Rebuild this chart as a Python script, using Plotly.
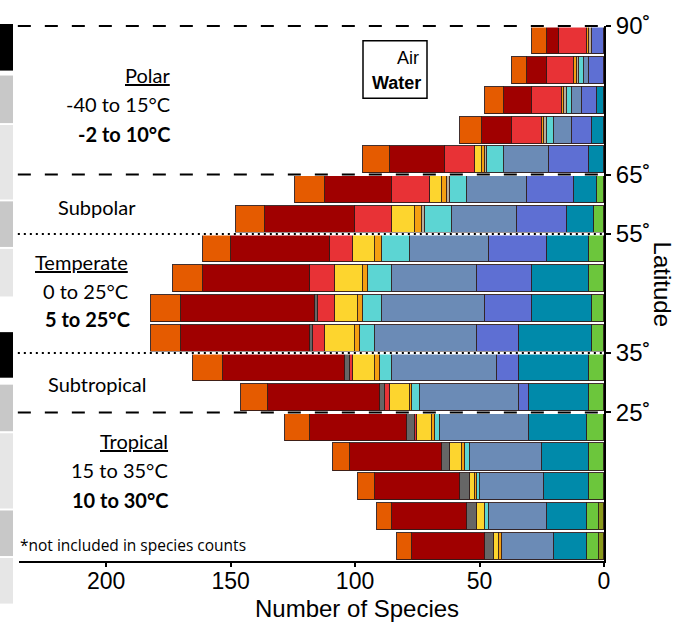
import plotly.graph_objects as go

# ---------------- data (rows listed top -> bottom, 5-degree latitude bins) ----------------
lat_mid = [87.5, 82.5, 77.5, 72.5, 67.5, 62.5, 57.5, 52.5, 47.5,
           42.5, 37.5, 32.5, 27.5, 22.5, 17.5, 12.5, 7.5, 2.5]

# series listed in stacking order from x=0 outwards
olive  = [0, 0, 0, 0, 0, 0, 0, 0, 0, 0, 0, 0, 0, 0, 0, 0, 2, 2]
green  = [0, 0, 0, 0, 0, 3, 4, 6, 6, 5, 5, 6, 6, 7, 6, 6, 5, 5]
teal   = [0, 0, 3, 5, 6, 9, 11, 17, 23, 24, 29, 28, 24, 23, 19, 18, 16, 13]
blue   = [5, 6, 6, 8, 16, 19, 20, 23, 22, 19, 17, 9, 4, 0, 0, 0, 0, 0]
steel  = [0, 2, 4, 7, 18, 24, 26, 32, 34, 41, 41, 42, 40, 36, 29, 26, 23, 21]
cyan   = [0, 2, 2, 3, 7, 7, 11, 11, 10, 8, 6, 5, 3, 2, 2, 1, 2, 0]
tan    = [1, 1, 1, 1, 1, 1, 1, 0, 0, 0, 0, 0, 0, 0, 0, 0, 0, 0]
amber  = [1, 1, 1, 1, 1, 2, 3, 3, 2, 2, 2, 2, 1, 1, 1, 1, 0, 1]
yellow = [0, 0, 0, 0, 3, 5, 9, 9, 11, 9, 12, 9, 8, 6, 5, 2, 3, 2]
red    = [11, 11, 12, 12, 12, 15, 15, 9, 10, 7, 5, 1, 2, 1, 0, 0, 0, 0]
gray   = [0, 0, 0, 0, 0, 0, 0, 0, 0, 1, 1, 2, 2, 3, 3, 4, 4, 4]
dkred  = [5, 8, 11, 12, 22, 27, 36, 40, 43, 54, 52, 49, 45, 39, 37, 34, 30, 29]
orange = [6, 6, 8, 9, 11, 12, 12, 11, 12, 12, 12, 12, 11, 10, 7, 7, 6, 6]

series = [
    ("olive", olive, "#8A9A1B"),
    ("green", green, "#6CC63C"),
    ("teal", teal, "#008AAA"),
    ("blue", blue, "#5E6FD3"),
    ("steel", steel, "#6B8BB6"),
    ("cyan", cyan, "#5CD5D3"),
    ("tan", tan, "#B9AE9A"),
    ("amber", amber, "#F4A012"),
    ("yellow", yellow, "#FDD52E"),
    ("red", red, "#E83236"),
    ("gray", gray, "#666666"),
    ("dark red", dkred, "#A00000"),
    ("orange", orange, "#E55B00"),
]

x_ticks = [0, 50, 100, 150, 200]
lat_ticks = [25, 35, 55, 65, 90]
lat_ticktext = ["25˚", "35˚", "55˚", "65˚", "90˚"]

# ---------------- figure ----------------
W, H = 679, 623
ML, MR, MT, MB = 19, 75, 21, 62
PW, PH = W - ML - MR, H - MT - MB


def px_x(px):
    return (px - ML) / PW


def px_y(py):
    return (MT + PH - py) / PH


fig = go.Figure()
for name, vals, col in series:
    fig.add_trace(go.Bar(
        y=lat_mid, x=[v if v else None for v in vals], name=name,
        orientation="h", width=4.55,
        marker=dict(color=col, line=dict(color="rgba(45,25,25,0.9)", width=1)),
        showlegend=False, hoverinfo="x+name",
    ))

shapes = []
# boundary lines
for lat, dash in [(90, "13px,14px"), (65, "13px,14px"), (25, "13px,14px"),
                  (55, "2px,4px"), (35, "2px,4px")]:
    yy = lat / 90
    shapes.append(dict(type="line", xref="paper", yref="paper", x0=-0.002, x1=1,
                       y0=yy, y1=yy, line=dict(color="white", width=3), layer="above"))
    shapes.append(dict(type="line", xref="paper", yref="paper", x0=-0.002, x1=1,
                       y0=yy, y1=yy, line=dict(color="black", width=2, dash=dash),
                       layer="above"))

# cropped legend blocks at the very left
blocks = [(19, 66, "#000000"), (71, 119, "#C8C8C8"), (121, 196, "#E6E6E6"),
          (198, 244, "#C8C8C8"), (246, 294, "#E6E6E6"), (330, 376, "#000000"),
          (383, 430, "#C8C8C8"), (432, 508, "#E6E6E6"), (510, 556, "#C8C8C8"),
          (558, 604, "#E6E6E6")]
for y0, y1, col in blocks:
    shapes.append(dict(type="rect", xref="paper", yref="paper",
                       x0=px_x(0), x1=px_x(13), y0=px_y(y1), y1=px_y(y0),
                       fillcolor=col, line=dict(width=0)))

# Air / Water box
shapes.append(dict(type="rect", xref="paper", yref="paper",
                   x0=px_x(363), x1=px_x(427), y0=px_y(94), y1=px_y(36),
                   line=dict(color="black", width=1.5), fillcolor="white", layer="above"))

ann = []
LF = "Lato, Open Sans, sans-serif"


def txt(text, x, y, anchor="right", size=20, font=LF):
    ann.append(dict(text=text, x=px_x(x), y=px_y(y), xref="paper", yref="paper",
                    xanchor=anchor, yanchor="middle", showarrow=False,
                    font=dict(family=font, size=size, color="black")))


txt("<u>Polar</u>", 172, 70)
txt("-40 to 15°C", 172, 100)
txt("<b>-2 to 10°C</b>", 172, 130)
txt("Subpolar", 97, 204, anchor="center")
txt("<u>Temperate</u>", 130, 259)
txt("0 to 25°C", 130, 288)
txt("<b>5 to 25°C</b>", 132, 317)
txt("Subtropical", 97, 382, anchor="center")
txt("<u>Tropical</u>", 170, 440)
txt("15 to 35°C", 170, 469)
txt("<b>10 to 30°C</b>", 171, 499)
txt("*not included in species counts", 18, 545, anchor="left", size=15.5,
    font="Open Sans, sans-serif")
txt("Air", 421, 53, size=18, font="Liberation Sans, Arial, sans-serif")
txt("<b>Water</b>", 423, 79, size=18, font="Liberation Sans, Arial, sans-serif")

ann.append(dict(text="Number of Species", x=px_x(357), y=px_y(609), xref="paper",
                yref="paper", xanchor="center", yanchor="middle", showarrow=False,
                font=dict(family="Liberation Sans, Arial, sans-serif", size=24,
                          color="black")))
ann.append(dict(text="Latitude", x=px_x(662), y=px_y(281), xref="paper",
                yref="paper", xanchor="center", yanchor="middle", showarrow=False,
                textangle=90,
                font=dict(family="Liberation Sans, Arial, sans-serif", size=24,
                          color="black")))

fig.update_layout(
    barmode="stack", bargap=0,
    width=W, height=H, margin=dict(l=ML, r=MR, t=MT, b=MB, pad=0),
    paper_bgcolor="white", plot_bgcolor="white",
    font=dict(family="Liberation Sans, Arial, sans-serif", size=24, color="black"),
    shapes=shapes, annotations=ann,
    xaxis=dict(range=[235, 0], tickvals=x_ticks, ticks="outside", ticklen=4,
               tickwidth=1.5, tickcolor="black", showline=True, linecolor="black",
               linewidth=2, showgrid=False, zeroline=False, ticklabelstandoff=-6,
               tickfont=dict(size=23)),
    yaxis=dict(range=[0, 90], side="right", tickvals=lat_ticks, ticktext=lat_ticktext,
               ticks="outside", ticklen=5, tickwidth=1.5, tickcolor="black",
               showline=True, linecolor="black", linewidth=2, showgrid=False,
               zeroline=False, tickfont=dict(size=24)),
)

fig.write_html("out.html")
